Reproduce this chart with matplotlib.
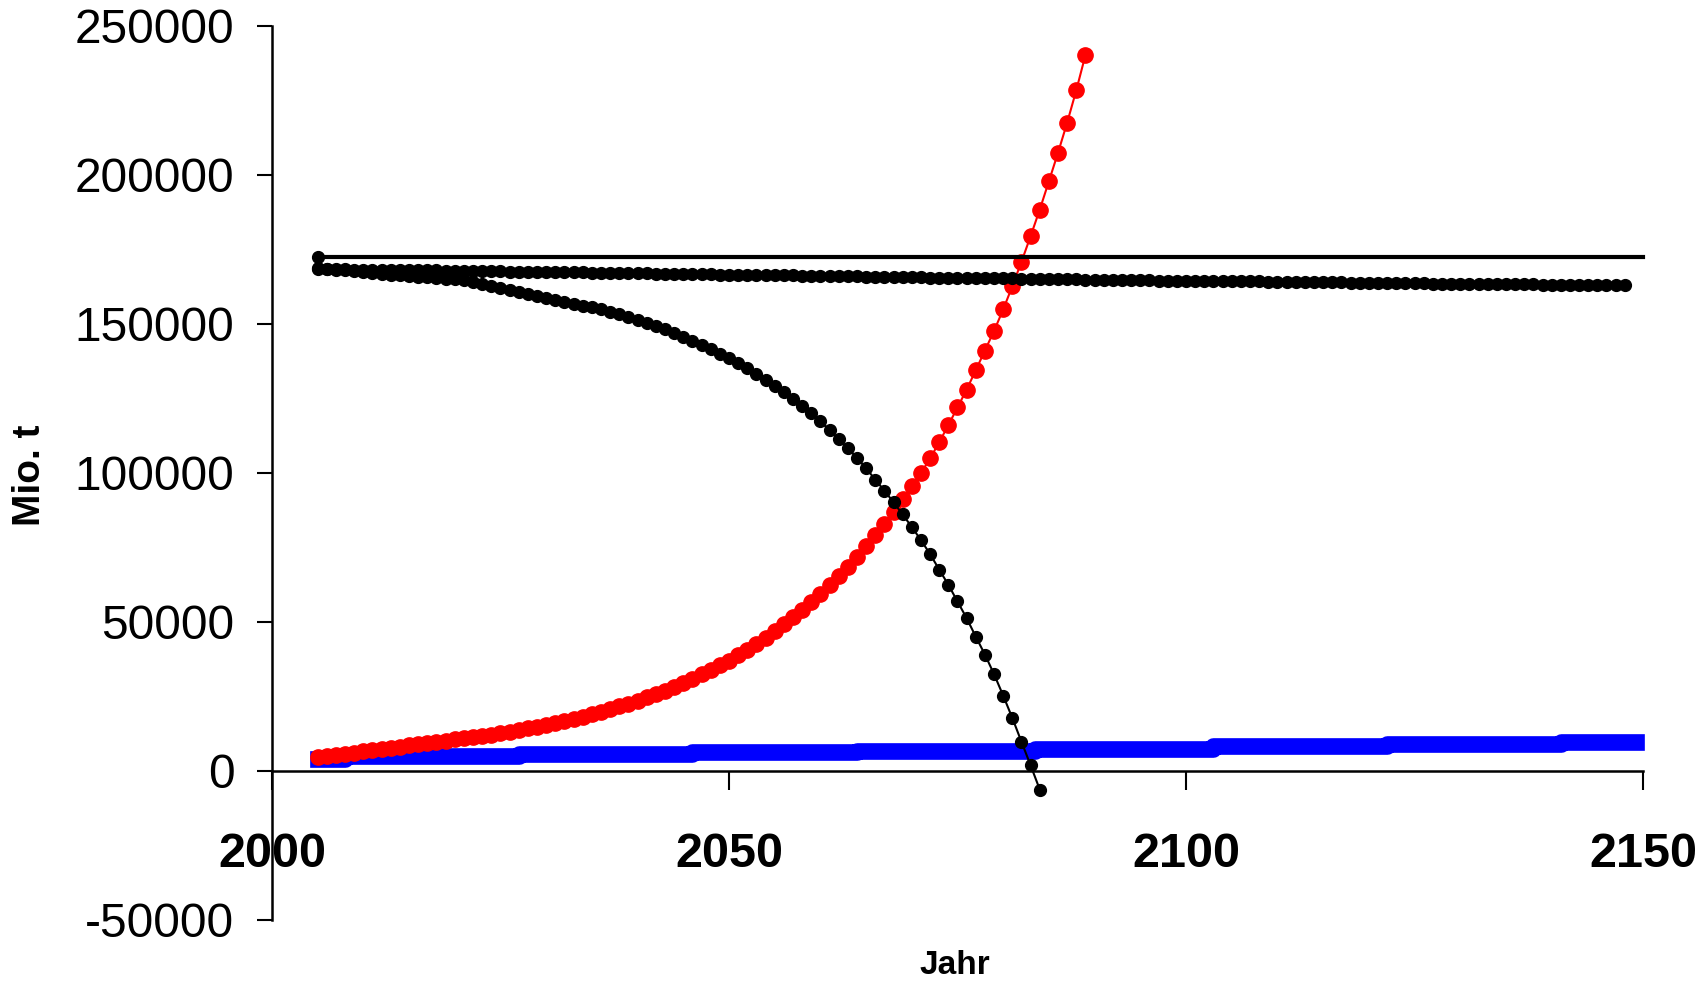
import matplotlib.pyplot as plt
import numpy as np

plt.rcParams['font.family'] = ['Liberation Sans', 'DejaVu Sans']

# reference level (flat line)
ref_years = [2005, 2150]
ref_vals = [172500, 172500]

# slowly declining series, one value per year 2005..2148
slow_vals = [
    168400, 168400, 168300, 168300, 168200, 168200, 168200, 168100, 168100, 168000,
    168000, 167900, 167900, 167900, 167800, 167800, 167700, 167700, 167600, 167600,
    167600, 167500, 167500, 167400, 167400, 167300, 167300, 167300, 167200, 167200,
    167100, 167100, 167000, 167000, 167000, 166900, 166900, 166800, 166800, 166700,
    166700, 166700, 166600, 166600, 166500, 166500, 166400, 166400, 166400, 166300,
    166300, 166200, 166200, 166100, 166100, 166100, 166000, 166000, 165900, 165900,
    165800, 165800, 165800, 165700, 165700, 165600, 165600, 165500, 165500, 165500,
    165400, 165400, 165300, 165300, 165200, 165200, 165200, 165100, 165100, 165000,
    165000, 164900, 164900, 164900, 164800, 164800, 164700, 164700, 164700, 164600,
    164600, 164600, 164500, 164500, 164500, 164400, 164400, 164400, 164300, 164300,
    164300, 164200, 164200, 164200, 164100, 164100, 164100, 164000, 164000, 164000,
    163900, 163900, 163900, 163800, 163800, 163800, 163700, 163700, 163700, 163600,
    163600, 163600, 163500, 163500, 163500, 163400, 163400, 163400, 163300, 163300,
    163300, 163200, 163200, 163200, 163100, 163100, 163100, 163100, 163000, 163000,
    163000, 163000, 162900, 162900,
]

# depleting series, 2005..2084
depl_vals = [
    168800, 168500, 168200, 167900, 167600, 167300, 167000, 166800, 166500, 166300,
    166000, 165800, 165600, 165300, 165100, 164900, 164600, 164000, 163500, 162700,
    161900, 161300, 160700, 160000, 159300, 158600, 157900, 157300, 156600, 156100,
    155500, 154800, 154000, 153200, 152300, 151300, 150300, 149200, 148100, 146900,
    145600, 144300, 142900, 141500, 140000, 138400, 136700, 135000, 133100, 131200,
    129200, 127100, 124800, 122400, 119900, 117200, 114300, 111200, 108200, 105000,
    101500, 97700, 94000, 90100, 86000, 81800, 77400, 72700, 67500, 62400,
    56800, 51200, 45000, 39000, 32400, 25200, 17700, 9700, 1800, -6300,
]

# growing series, 2005..2089
grow_vals = [
    4700, 5000, 5300, 5700, 6100, 6500, 6900, 7300, 7700, 8100,
    8500, 8900, 9300, 9700, 10100, 10500, 10900, 11300, 11700, 12100,
    12600, 13100, 13600, 14200, 14800, 15400, 16100, 16800, 17500, 18200,
    19000, 19800, 20700, 21600, 22500, 23500, 24600, 25700, 26900, 28200,
    29500, 30900, 32400, 33900, 35400, 36900, 38700, 40600, 42600, 44700,
    46900, 49200, 51600, 54100, 56700, 59400, 62300, 65300, 68400, 71800,
    75300, 79000, 82800, 86900, 91100, 95400, 99900, 104800, 110200, 116000,
    121900, 127900, 134400, 141000, 147600, 154800, 162600, 170800, 179400, 188300,
    197800, 207400, 217500, 228400, 240200,
]

# blue step series
step_years = [2005, 2008, 2027, 2046, 2064, 2083.5, 2103, 2122, 2141, 2149.2]
step_vals = [4100, 5000, 5600, 6200, 6700, 7400, 8300, 9000, 9700, 9700]

x_ticks = [2000, 2050, 2100, 2150]
y_ticks = [-50000, 0, 50000, 100000, 150000, 200000, 250000]

slow_years = np.arange(2005, 2005 + len(slow_vals))
depl_years = np.arange(2005, 2005 + len(depl_vals))
grow_years = np.arange(2005, 2005 + len(grow_vals))

fig = plt.figure(figsize=(17.06, 9.86), dpi=100)
ax = fig.add_axes([0.1594, 0.0672, 0.8037, 0.9067])

ax.plot(step_years, step_vals, drawstyle='steps-post', color='#0000ff', lw=12,
        solid_capstyle='projecting', clip_on=False, zorder=2)
ax.plot(grow_years, grow_vals, color='#ff0000', lw=1.5, marker='o', ms=11,
        clip_on=False, zorder=3)
ax.plot(depl_years, depl_vals, color='black', lw=1.5, marker='o', ms=8.5,
        clip_on=False, zorder=4)
ax.plot(slow_years, slow_vals, ls='none', color='black', marker='o', ms=8.5, zorder=4)
ax.plot(ref_years, ref_vals, color='black', lw=3, marker='o', ms=8.5, markevery=[0],
        clip_on=False, zorder=5)

ax.set_xlim(2000, 2150)
ax.set_ylim(-50000, 250000)

for s in ['top', 'right']:
    ax.spines[s].set_visible(False)
ax.spines['bottom'].set_position(('data', 0))
ax.spines['bottom'].set_linewidth(1.8)
ax.spines['left'].set_linewidth(1.8)

ax.set_xticks(x_ticks)
ax.set_xticklabels([str(t) for t in x_ticks], fontsize=35, fontweight='bold')
ax.tick_params(axis='x', direction='out', length=14, width=1.5, pad=30)
ax.set_yticks(y_ticks)
ax.set_yticklabels([str(t) for t in y_ticks], fontsize=34.5)
ax.tick_params(axis='y', direction='out', length=11, width=1.5, pad=16)

fig.text(0.5598, 0.0203, 'Jahr', fontsize=24, fontweight='bold',
         ha='center', va='center')
fig.text(0.0176, 0.518, 'Mio. t', fontsize=28, fontweight='bold', rotation=90,
         ha='center', va='center')

fig.savefig('out.png', dpi=100)
